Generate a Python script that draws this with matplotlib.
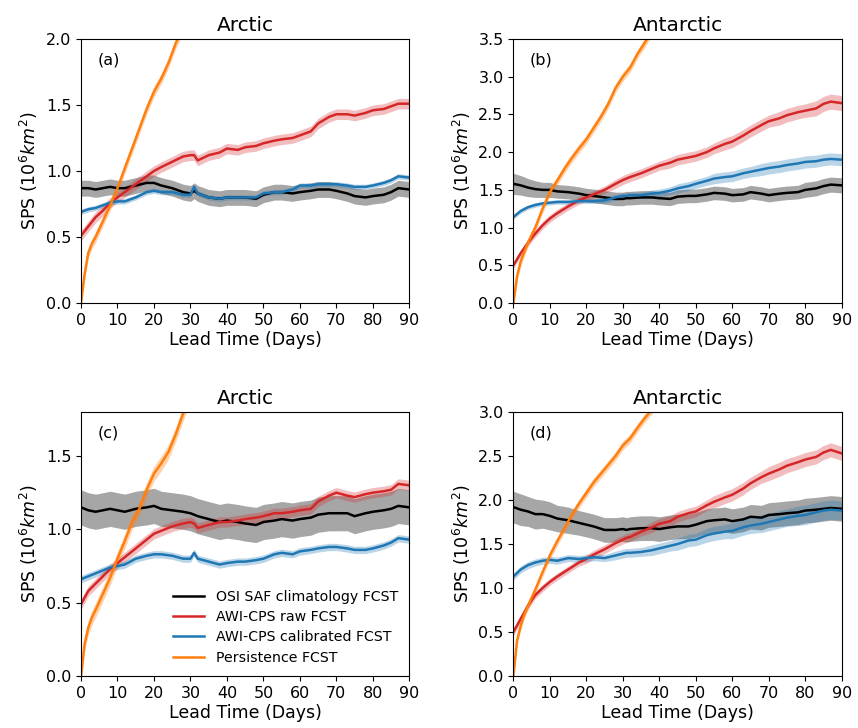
import numpy as np
import matplotlib
matplotlib.use('Agg')
import matplotlib.pyplot as plt

# ─── Dados ───────────────────────────────────────────────────────────────────

dias = [0, 2, 4, 6, 8, 10, 12, 15, 18, 20, 22, 25, 28, 30, 31, 32, 35, 38, 40, 43,
        45, 48, 50, 53, 55, 58, 60, 63, 65, 68, 70, 73, 75, 78, 80, 83, 85, 87, 90]

# (a) Arctic
clim_a = [0.87, 0.87, 0.86, 0.87, 0.88, 0.87, 0.87, 0.89, 0.91, 0.91, 0.89, 0.87, 0.84, 0.83, 0.85, 0.83,
          0.80, 0.79, 0.80, 0.80, 0.80, 0.79, 0.82, 0.84, 0.84, 0.83, 0.84, 0.85, 0.86, 0.86, 0.85, 0.83,
          0.81, 0.80, 0.81, 0.82, 0.84, 0.87, 0.86]
raw_a = [0.51, 0.58, 0.65, 0.70, 0.76, 0.80, 0.84, 0.90, 0.96, 1.00, 1.03, 1.07, 1.11, 1.12, 1.12, 1.08,
         1.12, 1.14, 1.17, 1.16, 1.18, 1.19, 1.21, 1.23, 1.24, 1.25, 1.27, 1.30, 1.36, 1.41, 1.43, 1.43,
         1.42, 1.44, 1.46, 1.47, 1.49, 1.51, 1.51]
cal_a = [0.69, 0.71, 0.72, 0.74, 0.76, 0.77, 0.77, 0.80, 0.84, 0.85, 0.84, 0.84, 0.82, 0.82, 0.88, 0.83,
         0.80, 0.79, 0.80, 0.80, 0.80, 0.80, 0.83, 0.84, 0.84, 0.86, 0.89, 0.89, 0.90, 0.90, 0.90, 0.89,
         0.88, 0.88, 0.89, 0.91, 0.93, 0.96, 0.95]
dias_pers_a = [0, 1, 2, 3, 4, 6, 8, 10, 12, 14, 16, 18, 20, 22, 24, 26, 28, 30]
pers_a = [0.0, 0.22, 0.38, 0.45, 0.50, 0.62, 0.74, 0.87, 1.02, 1.17, 1.32, 1.47, 1.60, 1.70, 1.82, 1.97, 2.08, 2.20]
spread_clim_a, spread_raw_a, spread_cal_a, spread_pers_a = 0.06, 0.04, 0.02, 0.04

# (b) Antarctic
clim_b = [1.58, 1.56, 1.53, 1.51, 1.50, 1.50, 1.48, 1.47, 1.45, 1.43, 1.42, 1.40, 1.38, 1.38, 1.39, 1.39,
          1.40, 1.40, 1.39, 1.38, 1.41, 1.42, 1.42, 1.44, 1.46, 1.45, 1.43, 1.44, 1.47, 1.45, 1.43, 1.45,
          1.46, 1.47, 1.50, 1.52, 1.55, 1.57, 1.56]
raw_b = [0.50, 0.66, 0.80, 0.92, 1.03, 1.12, 1.19, 1.28, 1.36, 1.40, 1.44, 1.50, 1.58, 1.63, 1.65, 1.67,
         1.72, 1.78, 1.82, 1.86, 1.90, 1.93, 1.95, 2.00, 2.05, 2.11, 2.14, 2.22, 2.28, 2.36, 2.41, 2.45,
         2.49, 2.53, 2.55, 2.58, 2.64, 2.67, 2.65]
cal_b = [1.14, 1.22, 1.27, 1.30, 1.32, 1.33, 1.34, 1.34, 1.35, 1.35, 1.35, 1.36, 1.40, 1.42, 1.42, 1.43,
         1.43, 1.45, 1.46, 1.49, 1.52, 1.55, 1.58, 1.62, 1.65, 1.67, 1.68, 1.72, 1.74, 1.77, 1.79, 1.81,
         1.83, 1.85, 1.87, 1.88, 1.90, 1.91, 1.90]
dias_pers_b = [0, 1, 2, 3, 4, 6, 8, 10, 12, 14, 16, 18, 20, 22, 24, 26, 28, 30, 32, 34, 36, 38]
pers_b = [0.0, 0.35, 0.55, 0.68, 0.80, 1.00, 1.25, 1.47, 1.62, 1.78, 1.92, 2.05, 2.17, 2.32, 2.47, 2.64,
          2.85, 3.00, 3.12, 3.30, 3.45, 3.60]
spread_clim_b = [0.14, 0.13, 0.12, 0.11, 0.10, 0.10, 0.09, 0.09, 0.09, 0.09, 0.09, 0.09, 0.09, 0.09, 0.09,
                 0.09, 0.09, 0.09, 0.09, 0.09, 0.09, 0.09, 0.09, 0.09, 0.09, 0.09, 0.09, 0.09, 0.09, 0.09,
                 0.09, 0.09, 0.09, 0.09, 0.10, 0.10, 0.10, 0.10, 0.10]
spread_raw_b = [0.04, 0.04, 0.04, 0.05, 0.05, 0.05, 0.05, 0.05, 0.05, 0.05, 0.05, 0.05, 0.06, 0.06, 0.06,
                0.06, 0.06, 0.06, 0.06, 0.07, 0.07, 0.07, 0.07, 0.07, 0.07, 0.08, 0.08, 0.08, 0.08, 0.08,
                0.08, 0.09, 0.09, 0.09, 0.09, 0.10, 0.10, 0.10, 0.10]
spread_cal_b = [0.03, 0.03, 0.03, 0.03, 0.03, 0.03, 0.03, 0.03, 0.03, 0.03, 0.03, 0.04, 0.04, 0.04, 0.04,
                0.04, 0.04, 0.05, 0.05, 0.05, 0.06, 0.06, 0.06, 0.06, 0.07, 0.07, 0.07, 0.07, 0.07, 0.08,
                0.08, 0.08, 0.08, 0.08, 0.08, 0.08, 0.08, 0.08, 0.08]
spread_pers_b = 0.06

# (c) Arctic
clim_c = [1.15, 1.13, 1.12, 1.13, 1.14, 1.13, 1.12, 1.14, 1.15, 1.16, 1.14, 1.13, 1.12, 1.11, 1.10, 1.09,
          1.07, 1.05, 1.06, 1.05, 1.04, 1.03, 1.05, 1.06, 1.07, 1.06, 1.07, 1.08, 1.10, 1.11, 1.11, 1.11,
          1.09, 1.11, 1.12, 1.13, 1.14, 1.16, 1.15]
raw_c = [0.49, 0.58, 0.63, 0.68, 0.73, 0.77, 0.81, 0.87, 0.93, 0.97, 0.99, 1.02, 1.04, 1.05, 1.04, 1.01,
         1.03, 1.05, 1.05, 1.06, 1.07, 1.08, 1.09, 1.11, 1.11, 1.12, 1.13, 1.14, 1.19, 1.23, 1.25, 1.23,
         1.22, 1.24, 1.25, 1.26, 1.27, 1.31, 1.30]
cal_c = [0.66, 0.68, 0.70, 0.72, 0.74, 0.75, 0.76, 0.80, 0.82, 0.83, 0.83, 0.82, 0.80, 0.80, 0.84, 0.80,
         0.78, 0.76, 0.77, 0.78, 0.78, 0.79, 0.80, 0.83, 0.84, 0.83, 0.85, 0.86, 0.87, 0.88, 0.88, 0.87,
         0.86, 0.86, 0.87, 0.89, 0.91, 0.94, 0.93]
dias_pers_c = [0, 1, 2, 3, 4, 6, 8, 10, 12, 14, 16, 18, 20, 22, 24, 26, 28, 30]
pers_c = [0.0, 0.22, 0.33, 0.40, 0.45, 0.56, 0.67, 0.80, 0.92, 1.05, 1.14, 1.27, 1.38, 1.45, 1.53, 1.65, 1.79, 1.92]
spread_clim_c, spread_raw_c, spread_cal_c, spread_pers_c = 0.12, 0.035, 0.025, 0.05

# (d) Antarctic
clim_d = [1.92, 1.89, 1.87, 1.84, 1.84, 1.82, 1.79, 1.77, 1.74, 1.72, 1.70, 1.66, 1.66, 1.67, 1.66, 1.67,
          1.68, 1.68, 1.67, 1.69, 1.70, 1.70, 1.72, 1.76, 1.77, 1.78, 1.76, 1.78, 1.81, 1.80, 1.83, 1.84,
          1.85, 1.86, 1.88, 1.89, 1.90, 1.91, 1.90]
raw_d = [0.50, 0.65, 0.80, 0.92, 1.00, 1.07, 1.13, 1.21, 1.29, 1.33, 1.38, 1.44, 1.51, 1.55, 1.57, 1.58,
         1.64, 1.69, 1.73, 1.76, 1.81, 1.85, 1.87, 1.94, 1.98, 2.03, 2.06, 2.13, 2.19, 2.26, 2.30, 2.35,
         2.39, 2.43, 2.46, 2.49, 2.54, 2.57, 2.53]
cal_d = [1.13, 1.21, 1.26, 1.29, 1.31, 1.32, 1.31, 1.34, 1.33, 1.34, 1.35, 1.34, 1.37, 1.39, 1.40, 1.40,
         1.41, 1.43, 1.45, 1.48, 1.50, 1.54, 1.55, 1.60, 1.62, 1.64, 1.65, 1.69, 1.71, 1.73, 1.75, 1.78,
         1.80, 1.82, 1.83, 1.86, 1.88, 1.89, 1.88]
dias_pers_d = [0, 1, 2, 3, 4, 6, 8, 10, 12, 14, 16, 18, 20, 22, 24, 26, 28, 30, 32, 34, 36, 38, 40]
pers_d = [0.0, 0.40, 0.57, 0.70, 0.80, 0.98, 1.18, 1.37, 1.53, 1.68, 1.83, 1.96, 2.08, 2.20, 2.30, 2.40,
          2.50, 2.62, 2.70, 2.82, 2.93, 3.03, 3.12]
spread_clim_d = [0.18, 0.18, 0.17, 0.17, 0.16, 0.16, 0.15, 0.15, 0.14, 0.14, 0.14, 0.14, 0.14, 0.14, 0.14,
                 0.14, 0.14, 0.14, 0.14, 0.14, 0.14, 0.14, 0.14, 0.14, 0.14, 0.14, 0.14, 0.14, 0.14, 0.14,
                 0.14, 0.14, 0.14, 0.14, 0.14, 0.14, 0.14, 0.14, 0.14]
spread_raw_d = [0.04, 0.04, 0.04, 0.04, 0.04, 0.04, 0.04, 0.04, 0.04, 0.05, 0.05, 0.05, 0.05, 0.05, 0.05,
                0.05, 0.05, 0.06, 0.06, 0.06, 0.06, 0.06, 0.06, 0.06, 0.07, 0.07, 0.07, 0.07, 0.07, 0.07,
                0.08, 0.08, 0.08, 0.08, 0.08, 0.08, 0.08, 0.08, 0.08]
spread_cal_d = [0.04, 0.04, 0.04, 0.04, 0.04, 0.04, 0.04, 0.04, 0.04, 0.04, 0.04, 0.04, 0.05, 0.05, 0.05,
                0.05, 0.05, 0.06, 0.06, 0.06, 0.07, 0.07, 0.07, 0.08, 0.08, 0.08, 0.09, 0.09, 0.09, 0.10,
                0.10, 0.10, 0.10, 0.11, 0.11, 0.11, 0.11, 0.11, 0.11]
spread_pers_d = 0.05

titulos = ['Arctic', 'Antarctic', 'Arctic', 'Antarctic']
rotulos = ['(a)', '(b)', '(c)', '(d)']
ylims = [2.0, 3.5, 1.8, 3.0]
yticks = [[0.0, 0.5, 1.0, 1.5, 2.0],
          [0.0, 0.5, 1.0, 1.5, 2.0, 2.5, 3.0, 3.5],
          [0.0, 0.5, 1.0, 1.5],
          [0.0, 0.5, 1.0, 1.5, 2.0, 2.5, 3.0]]

paineis = [
    (clim_a, spread_clim_a, raw_a, spread_raw_a, cal_a, spread_cal_a, dias_pers_a, pers_a, spread_pers_a),
    (clim_b, spread_clim_b, raw_b, spread_raw_b, cal_b, spread_cal_b, dias_pers_b, pers_b, spread_pers_b),
    (clim_c, spread_clim_c, raw_c, spread_raw_c, cal_c, spread_cal_c, dias_pers_c, pers_c, spread_pers_c),
    (clim_d, spread_clim_d, raw_d, spread_raw_d, cal_d, spread_cal_d, dias_pers_d, pers_d, spread_pers_d),
]

nomes = ['OSI SAF climatology FCST', 'AWI-CPS raw FCST', 'AWI-CPS calibrated FCST', 'Persistence FCST']
cores = ['black', '#d62728', '#1f77b4', '#ff7f0e']
alfas = [0.35, 0.3, 0.3, 0.35]

# ─── Gráfico ─────────────────────────────────────────────────────────────────

fig, axes = plt.subplots(2, 2, figsize=(8.58, 7.28), dpi=100)
fig.subplots_adjust(left=0.0944, right=0.981, bottom=0.0714, top=0.9464,
                    wspace=0.317, hspace=0.413)
axes = axes.flatten()

for i, ax in enumerate(axes):
    clim, s_clim, raw, s_raw, cal, s_cal, dp, pers, s_pers = paineis[i]
    series = [(dias, clim, s_clim), (dias, raw, s_raw), (dias, cal, s_cal), (dp, pers, s_pers)]
    for k, (x, y, s) in enumerate(series):
        x = np.array(x)
        y = np.array(y)
        s = np.array(s)
        ax.fill_between(x, y - s, y + s, color=cores[k], alpha=alfas[k], linewidth=0)
        ax.plot(x, y, color=cores[k], linewidth=1.8, label=nomes[k])

    ax.set_xlim(0, 90)
    ax.set_ylim(0, ylims[i])
    ax.set_xticks(range(0, 91, 10))
    ax.set_yticks(yticks[i])
    ax.tick_params(labelsize=11.5)
    ax.set_title(titulos[i], fontsize=14.5)
    ax.set_xlabel('Lead Time (Days)', fontsize=12.5, labelpad=2)
    ax.set_ylabel('SPS ($10^6km^2$)', fontsize=12.5, labelpad=4)
    ax.text(0.05, 0.92, rotulos[i], transform=ax.transAxes, fontsize=11.5, va='center')

    if i == 2:
        ax.legend(loc='lower right', frameon=False, fontsize=10.2, handlelength=2.2,
                  labelspacing=0.45, borderaxespad=0.4)

plt.savefig('out.png', dpi=100)
